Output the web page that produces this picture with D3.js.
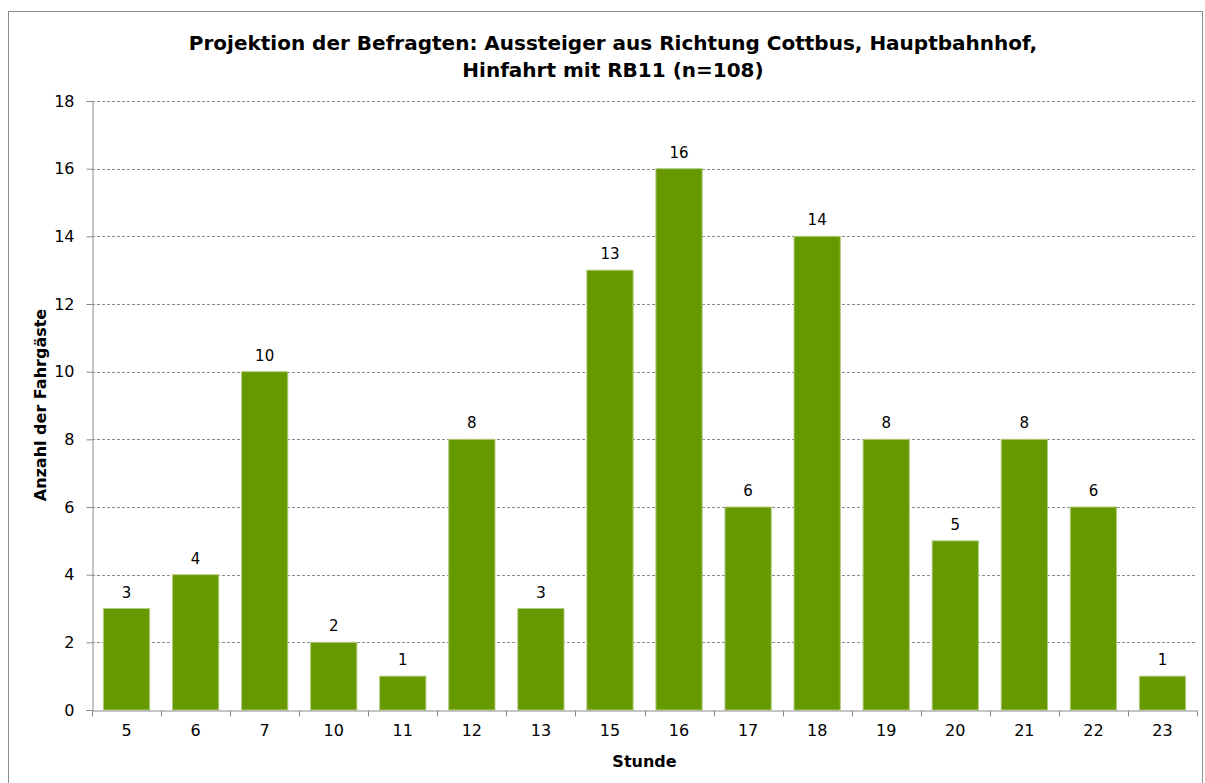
<!DOCTYPE html>
<html>
<head>
<meta charset="utf-8">
<script src="https://cdn.jsdelivr.net/npm/d3@7"></script>
<style>
  body { margin: 0; background: #fff; }
  text { font-family: "DejaVu Sans", Verdana, sans-serif; }
</style>
</head>
<body>
<div id="chart"></div>
<script>
// hours and passenger counts
const hours = ["5", "6", "7", "10", "11", "12", "13", "15", "16", "17", "18", "19", "20", "21", "22", "23"];
const counts = [3, 4, 10, 2, 1, 8, 3, 13, 16, 6, 14, 8, 5, 8, 6, 1];
const yTicks = [0, 2, 4, 6, 8, 10, 12, 14, 16, 18];
const titleLines = ["Projektion der Befragten: Aussteiger aus Richtung Cottbus, Hauptbahnhof,", "Hinfahrt mit RB11 (n=108)"];

const width = 1205, height = 783;
const margin = {top: 101, right: 8, bottom: 73, left: 92};

const svg = d3.select("#chart")
    .append("svg")
    .attr("width", width)
    .attr("height", height);

// outer frame
svg.append("rect")
    .attr("x", 8.5).attr("y", 11.5)
    .attr("width", 1194).attr("height", 790)
    .attr("fill", "none")
    .attr("stroke", "#8c8c8c");

const xScale = d3.scaleBand()
    .domain(hours)
    .range([margin.left, width - margin.right])
    .paddingInner(0.33)
    .paddingOuter(0.165);

const yScale = d3.scaleLinear()
    .domain([0, 18])
    .range([height - margin.bottom, margin.top]);

// gridlines
svg.append("g")
    .selectAll("line")
    .data(yTicks.filter(d => d > 0))
    .join("line")
    .attr("x1", margin.left)
    .attr("x2", width - margin.right)
    .attr("y1", d => Math.round(yScale(d)) + 0.5)
    .attr("y2", d => Math.round(yScale(d)) + 0.5)
    .attr("stroke", "#8c8c8c")
    .attr("stroke-dasharray", "3,2");

// bars
svg.append("g")
    .selectAll("rect")
    .data(counts)
    .join("rect")
    .attr("x", (d, i) => xScale(hours[i]))
    .attr("y", d => yScale(d))
    .attr("width", xScale.bandwidth())
    .attr("height", d => yScale(0) - yScale(d))
    .attr("fill", "#669900")
    .attr("stroke", "#b3cc80")
    .attr("stroke-width", 1);

// value labels
svg.append("g")
    .selectAll("text")
    .data(counts)
    .join("text")
    .attr("x", (d, i) => xScale(hours[i]) + xScale.bandwidth() / 2)
    .attr("y", d => yScale(d) - 11)
    .attr("text-anchor", "middle")
    .attr("font-size", 15)
    .attr("fill", "#000")
    .text(d => d);

// y axis
const yAxis = svg.append("g")
    .attr("transform", `translate(${margin.left + 0.5},0)`)
    .call(d3.axisLeft(yScale).tickValues(yTicks).tickSize(6).tickPadding(12));
yAxis.selectAll("text").attr("font-size", 16).attr("fill", "#000")
    .style("font-family", "DejaVu Sans, Verdana, sans-serif");

// x axis with ticks between categories
const xAxis = svg.append("g")
    .attr("transform", `translate(0,${yScale(0) + 0.5})`)
    .call(d3.axisBottom(xScale).tickSize(0).tickPadding(14));
xAxis.selectAll("text").attr("font-size", 16).attr("fill", "#000")
    .style("font-family", "DejaVu Sans, Verdana, sans-serif");

const bounds = d3.range(hours.length + 1).map(i => margin.left + i * (width - margin.left - margin.right) / hours.length);
xAxis.selectAll(".sep")
    .data(bounds)
    .join("line")
    .attr("class", "sep")
    .attr("x1", d => Math.round(d) + 0.5)
    .attr("x2", d => Math.round(d) + 0.5)
    .attr("y1", 0)
    .attr("y2", 6)
    .attr("stroke", "#8c8c8c");

svg.selectAll(".domain").attr("stroke", "#8c8c8c");
svg.selectAll(".tick line").attr("stroke", "#8c8c8c");

// title
svg.append("text")
    .attr("x", 613)
    .attr("y", 50)
    .attr("text-anchor", "middle")
    .attr("font-size", 20)
    .attr("font-weight", "bold")
    .selectAll("tspan")
    .data(titleLines)
    .join("tspan")
    .attr("x", 613)
    .attr("dy", (d, i) => i === 0 ? 0 : 27)
    .text(d => d);

// axis labels
svg.append("text")
    .attr("x", (margin.left + width - margin.right) / 2)
    .attr("y", 767)
    .attr("text-anchor", "middle")
    .attr("font-size", 16)
    .attr("font-weight", "bold")
    .text("Stunde");

svg.append("text")
    .attr("transform", "rotate(-90)")
    .attr("x", -405)
    .attr("y", 46)
    .attr("text-anchor", "middle")
    .attr("font-size", 16)
    .attr("font-weight", "bold")
    .text("Anzahl der Fahrgäste");
</script>
</body>
</html>
